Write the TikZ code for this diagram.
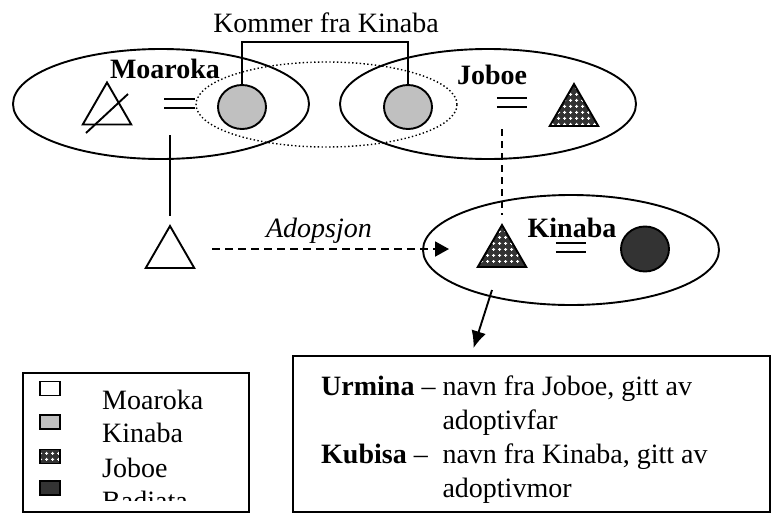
\documentclass[tikz,border=0pt]{standalone}
\usepackage{fontspec}
\setmainfont{Liberation Serif}
\usetikzlibrary{shapes.geometric,arrows.meta,patterns.meta}

\definecolor{kinabagrey}{HTML}{C0C0C0}
\definecolor{badiatadark}{HTML}{333333}

\tikzdeclarepattern{
  name=joboecross,
  type=uncolored,
  bottom left={(0pt,0pt)},
  top right={(5.5pt,5.5pt)},
  tile size={(5.5pt,5.5pt)},
  code={
    \fill (1.2pt,2.2pt) rectangle (4.3pt,3.3pt);
    \fill (2.2pt,1.2pt) rectangle (3.3pt,4.3pt);
  }
}

\tikzset{
  family/.style={ellipse, draw, line width=1.9pt, inner sep=0pt, minimum width=296pt, minimum height=110pt},
  shared/.style={ellipse, draw, line width=1.4pt, dash pattern=on 1.4pt off 2.4pt, inner sep=0pt, minimum width=261pt, minimum height=85pt},
  woman/.style={ellipse, draw, line width=1.9pt, inner sep=0pt, minimum width=48pt, minimum height=44pt},
  man/.style={regular polygon, regular polygon sides=3, draw, line width=1.9pt, inner sep=0pt, minimum size=56pt},
  joboefill/.style={preaction={fill=black!80}, pattern={joboecross}, pattern color=white},
  wedbox/.style={inner sep=0pt, minimum width=30pt, minimum height=9pt},
  legendsq/.style={draw, line width=1.5pt, inner sep=0pt, minimum width=20pt, minimum height=14pt},
  adopt/.style={line width=1.9pt, dash pattern=on 8pt off 5pt, -{Triangle[length=14pt,width=15pt]}},
  namearrow/.style={line width=1.9pt, -{Latex[length=17pt,width=15pt]}}
}

\newcommand{\wedding}[2]{%
  \node[wedbox] (#1) at #2 {};
  \draw[line width=1.9pt] (#1.north west) -- (#1.north east) (#1.south west) -- (#1.south east);}

\begin{document}
\begin{tikzpicture}[x=1pt, y=-1pt, font=\fontsize{28pt}{34pt}\selectfont]
  \useasboundingbox (0,0) rectangle (771,517);

  \node[shared] (overlap) at (326.5,104.5) {};
  \node[family] (moaroka) at (161,104) {};
  \node[family] (joboe) at (488,104) {};
  \node[family] (kinaba) at (571,250) {};

  \node[anchor=base] (moarokalbl) at (165,78) {\bfseries Moaroka};
  \node[anchor=base] (joboelbl) at (492,84) {\bfseries Joboe};
  \node[anchor=base] (kinabalbl) at (572,237) {\bfseries Kinaba};

  \node[man] (mtri) at (107,110.5) {};
  \draw[line width=1.9pt] ([shift={(-21,22.5)}]mtri.center) -- ([shift={(21,-16.5)}]mtri.center);
  \wedding{mwed}{(179.5,103.5)}
  \node[woman, fill=kinabagrey] (cL) at (242,107) {};
  \node[woman, fill=kinabagrey] (cR) at (408,107) {};
  \wedding{jwed}{(512,102.5)}
  \node[man, joboefill] (jtri) at (574,112) {};

  \node[anchor=base] (kommer) at (326,32) {Kommer fra Kinaba};
  \coordinate (brk) at (326,42);
  \draw[line width=1.9pt] (cL.north) |- (brk) -| (cR.north);

  \node[man] (kid) at (170,254) {};
  \coordinate (mline) at (170,135);
  \draw[line width=1.9pt] (mline) -- ([yshift=8pt]kid.corner 1);

  \node[man, joboefill] (ktri) at (502,253) {};
  \wedding{kwed}{(571,247.5)}
  \node[woman, minimum height=45pt, fill=badiatadark] (cK) at (645,249) {};
  \coordinate (jline) at (502,129);
  \draw[line width=1.9pt, dash pattern=on 7pt off 5pt] (jline) -- ([yshift=8pt]ktri.corner 1);

  \draw[adopt] ([shift={(42,-5)}]kid.center) -- ([shift={(-53,-4)}]ktri.center);
  \node[anchor=base] (adopsjon) at (319,237) {\itshape Adopsjon};

  \node[draw, line width=1.9pt, minimum width=477pt, minimum height=156pt] (names) at (531.5,434) {};
  \node[anchor=west, inner sep=0pt] (namestxt) at (321,440) {%
    \begin{tabular}{@{}l@{ }l@{}}
      \textbf{Urmina} --& navn fra Joboe, gitt av\\
      & adoptivfar\\
      \textbf{Kubisa} --& navn fra Kinaba, gitt av\\
      & adoptivmor
    \end{tabular}};
  \draw[namearrow] ([shift={(-79,40)}]kinaba.center) -- ([shift={(-58,-7)}]names.north);

  \node[draw, line width=1.9pt, minimum width=226pt, minimum height=139pt] (legend) at (136,442.5) {};
  \node[legendsq, fill=white] (sqM) at (50,388.5) {};
  \node[legendsq, fill=kinabagrey] (sqK) at (50,422) {};
  \node[legendsq, joboefill] (sqJ) at (50,456.5) {};
  \node[legendsq, fill=badiatadark] (sqB) at (50,488) {};
  \begin{scope}
    \clip (legend.north west) rectangle ([yshift=12pt]legend.south east);
    \node[anchor=base west, inner sep=0pt] (lblM) at (102,409) {Moaroka};
    \node[anchor=base west, inner sep=0pt] (lblK) at (102,442) {Kinaba};
    \node[anchor=base west, inner sep=0pt] (lblJ) at (102,477) {Joboe};
    \node[anchor=base west, inner sep=0pt] (lblB) at (102,510) {Badiata};
  \end{scope}
\end{tikzpicture}
\end{document}
